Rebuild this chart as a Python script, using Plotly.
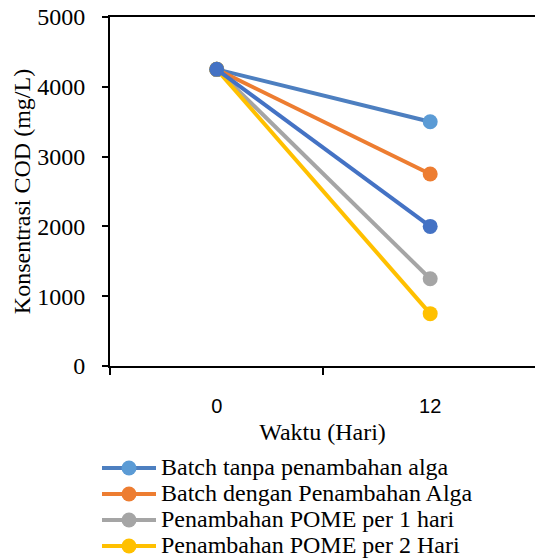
import plotly.graph_objects as go

categories = ["0", "12"]
series_names = [
    "Batch tanpa penambahan alga",
    "Batch dengan Penambahan Alga",
    "Penambahan POME per 1 hari",
    "Penambahan POME per 2 Hari",
    "Seri 5",
]
batch_tanpa = [4250, 3500]
batch_dengan = [4250, 2750]
pome_1 = [4250, 1250]
pome_2 = [4250, 750]
seri_5 = [4250, 2000]

line_colors = ["#4D7FC0", "#ED7D31", "#A5A5A5", "#FFC000", "#4472C4"]
marker_colors = ["#5B9BD5", "#ED7D31", "#A5A5A5", "#FFC000", "#4472C4"]
values = [batch_tanpa, batch_dengan, pome_1, pome_2, seri_5]
in_legend = [True, True, True, True, False]

SERIF = "Liberation Serif"
SANS = "Liberation Sans"

W, H = 535, 559
L, R, T, B = 110, 0, 17, 193
PW, PH = W - L - R, H - T - B

fig = go.Figure()
for name, vals, lc, mc, show in zip(series_names, values, line_colors, marker_colors, in_legend):
    fig.add_trace(go.Scatter(
        x=categories, y=vals, mode="lines+markers",
        name=f'<span style="font-size:24px">{name}</span>',
        showlegend=show,
        line=dict(color=lc, width=4),
        marker=dict(color=mc, size=15),
    ))

fig.update_layout(
    width=W, height=H,
    margin=dict(l=L, r=R, t=T, b=B, autoexpand=False),
    plot_bgcolor="white", paper_bgcolor="white",
    font=dict(family=SERIF, color="black", size=24),
    showlegend=True,
    legend=dict(
        x=(97 - L) / PW, y=-(450 - (T + PH)) / PH, xanchor="left", yanchor="top",
        font=dict(family=SERIF, size=17.7, color="black"),
        itemwidth=54, tracegroupgap=0,
        bgcolor="rgba(0,0,0,0)",
    ),
    xaxis=dict(
        type="category", range=[-0.5, 1.491], automargin=False,
        showline=True, linecolor="black", linewidth=2, mirror=True,
        ticks="outside", tickson="boundaries", ticklen=7, tickwidth=2, tickcolor="black",
        showgrid=False, zeroline=False,
        tickfont=dict(family=SANS, size=20, color="black"),
        ticklabelstandoff=21,
        title=dict(text="Waktu (Hari)", font=dict(family=SERIF, size=24, color="black"), standoff=7),
    ),
    yaxis=dict(
        range=[0, 5000], tickvals=[0, 1000, 2000, 3000, 4000, 5000], automargin=False,
        showline=True, linecolor="black", linewidth=2,
        ticks="outside", ticklen=6, tickwidth=2, tickcolor="black",
        showgrid=False, zeroline=False,
        tickfont=dict(family=SERIF, size=24, color="black"),
        ticklabelstandoff=12,
        title=dict(text="Konsentrasi COD (mg/L)", font=dict(family=SERIF, size=24, color="black"), standoff=0),
    ),
)

fig.write_html("out.html")
